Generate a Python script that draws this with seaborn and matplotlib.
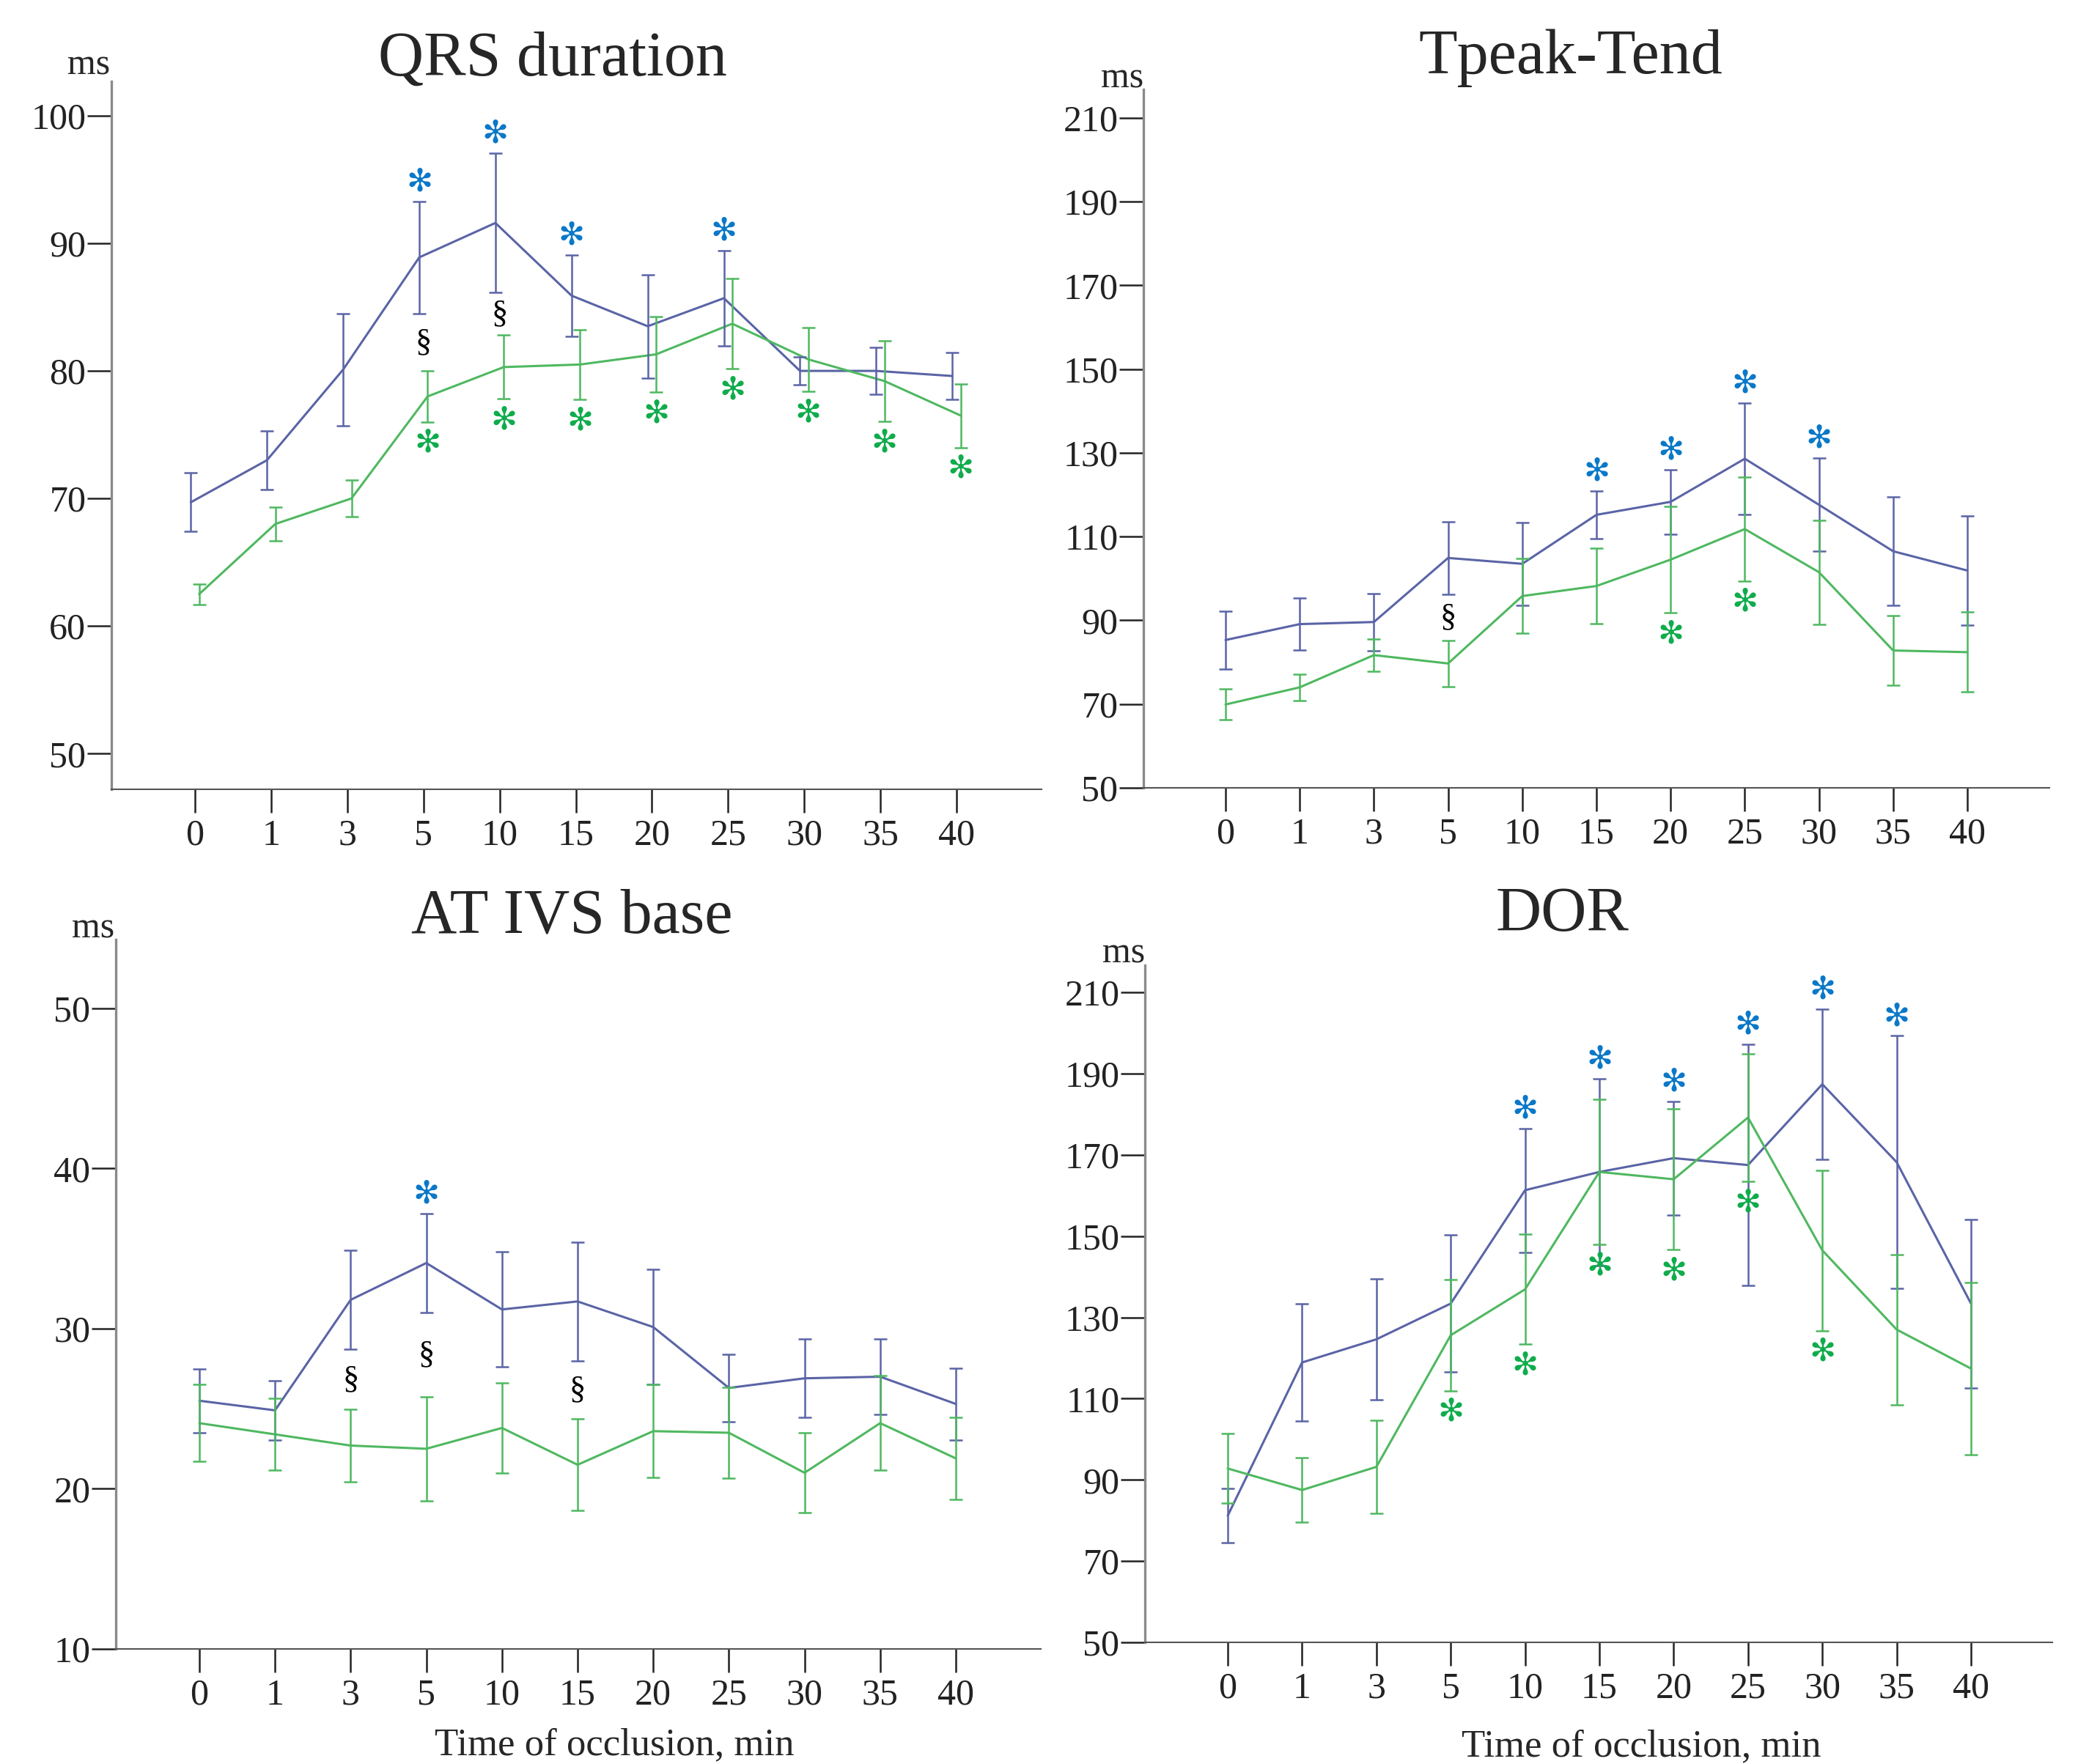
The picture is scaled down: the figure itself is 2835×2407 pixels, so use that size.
import pandas as pd
import numpy as np
import matplotlib
matplotlib.use("Agg")
import matplotlib.pyplot as plt
import seaborn as sns

times = ['0', '1', '3', '5', '10', '15', '20', '25', '30', '35', '40']

# QRS duration
qrs_blue = [69.7, 73.0, 80.1, 88.9, 91.6, 85.9, 83.5, 85.7, 80.0, 80.0, 79.6]
qrs_blue_err = [2.3, 2.3, 4.4, 4.4, 5.45, 3.2, 4.05, 3.75, 1.1, 1.85, 1.85]
qrs_green = [62.5, 68.0, 70.0, 78.0, 80.3, 80.5, 81.3, 83.7, 80.9, 79.2, 76.5]
qrs_green_err = [0.8, 1.3, 1.45, 2.0, 2.5, 2.75, 2.95, 3.55, 2.5, 3.15, 2.5]
qrs_star_blue = ['5', '10', '15', '25']
qrs_star_green = ['5', '10', '15', '20', '25', '30', '35', '40']
qrs_sect = ['5', '10']

# Tpeak-Tend
tp_blue = [85.3, 89.1, 89.6, 104.9, 103.5, 115.2, 118.3, 128.6, 117.6, 106.5, 101.9]
tp_blue_err = [6.9, 6.15, 6.85, 8.65, 9.85, 5.7, 7.7, 13.35, 11.1, 12.9, 13.0]
tp_green = [69.9, 74.0, 81.7, 79.7, 95.8, 98.2, 104.5, 111.8, 101.5, 82.8, 82.4]
tp_green_err = [3.7, 3.15, 3.9, 5.5, 8.9, 9.05, 12.65, 12.4, 12.45, 8.35, 9.55]
tp_star_blue = ['15', '20', '25', '30']
tp_star_green = ['20', '25']
tp_sect = ['5']

# AT IVS base
at_blue = [25.5, 24.9, 31.8, 34.1, 31.2, 31.7, 30.1, 26.3, 26.9, 27.0, 25.3]
at_blue_err = [2.0, 1.85, 3.1, 3.1, 3.6, 3.7, 3.6, 2.1, 2.45, 2.35, 2.25]
at_green = [24.1, 23.4, 22.7, 22.5, 23.8, 21.5, 23.6, 23.5, 21.0, 24.1, 21.9]
at_green_err = [2.4, 2.25, 2.25, 3.25, 2.8, 2.85, 2.9, 2.85, 2.5, 2.95, 2.55]
at_star_blue = ['5']
at_star_green = []
at_sect = ['3', '5', '15']

# DOR
dor_blue = [81.2, 118.9, 124.6, 133.4, 161.3, 165.8, 169.2, 167.5, 187.4, 168.2, 133.4]
dor_blue_err = [6.6, 14.4, 14.85, 16.85, 15.25, 23.0, 13.95, 29.7, 18.45, 31.1, 20.75]
dor_green = [92.8, 87.5, 93.2, 125.6, 136.9, 165.8, 164.0, 179.2, 146.5, 127.0, 117.4]
dor_green_err = [8.55, 7.95, 11.45, 13.65, 13.55, 17.9, 17.3, 15.75, 19.75, 18.5, 21.2]
dor_star_blue = ['10', '15', '20', '25', '30', '35']
dor_star_green = ['5', '10', '15', '20', '25', '30']
dor_sect = []

sns.set_style('ticks')
plt.rcParams['font.family'] = ['Liberation Serif', 'DejaVu Sans']

W, H = 2835, 2407
fig = plt.figure(figsize=(W / 100, H / 100), dpi=100)

BLUE = '#5a64a6'
GREEN = '#4fb860'
STAR_BLUE = '#0a78c8'
STAR_GREEN = '#10ac4c'


def draw_panel(box, tick_px, ylim, yticks, title, title_xy, ms_xy,
               blue, blue_err, green, green_err, star_b, star_g, sect, dodge=0.0, xlabel_xy=None):
    left, right, top, bottom = box
    ax = fig.add_axes([left / W, 1 - bottom / H, (right - left) / W, (bottom - top) / H])
    t0, t40 = tick_px
    step = (t40 - t0) / 10
    ax.set_xlim((left - t0) / step, (right - t0) / step)
    ax.set_ylim(*ylim)

    n = len(times)
    df = pd.DataFrame({
        'pos': list(np.arange(n) - dodge) + list(np.arange(n) + dodge),
        'value': blue + green,
        'err': blue_err + green_err,
        'group': ['blue'] * n + ['green'] * n,
    })
    sns.lineplot(data=df, x='pos', y='value', hue='group', hue_order=['blue', 'green'],
                 palette={'blue': BLUE, 'green': GREEN}, lw=2.2, legend=False,
                 errorbar=None, sort=False, ax=ax)
    for grp, col in [('blue', BLUE), ('green', GREEN)]:
        d = df[df['group'] == grp]
        ax.errorbar(d['pos'], d['value'], yerr=d['err'], fmt='none', ecolor=col,
                    elinewidth=1.8, capsize=6.5, capthick=1.8)

    for t in star_b:
        i = times.index(t)
        ax.annotate('✻', xy=(i - dodge, blue[i] + blue_err[i]), xytext=(0, 19),
                    textcoords='offset points', ha='center', va='center',
                    color=STAR_BLUE, fontsize=31, family='DejaVu Sans')
    for t in star_g:
        i = times.index(t)
        ax.annotate('✻', xy=(i + dodge, green[i] - green_err[i]), xytext=(0, -21),
                    textcoords='offset points', ha='center', va='center',
                    color=STAR_GREEN, fontsize=31, family='DejaVu Sans')
    for t in sect:
        i = times.index(t)
        ymid = (blue[i] - blue_err[i] + green[i] + green_err[i]) / 2
        ax.text(i, ymid, '§', ha='center', va='center', fontsize=32, color='black')

    ax.set_xticks(range(n))
    ax.set_xticklabels(times)
    ax.set_yticks(yticks)
    ax.tick_params(axis='both', labelsize=36, colors='#222222', width=1.8)
    ax.tick_params(axis='y', length=24, pad=1)
    ax.tick_params(axis='x', length=23, pad=6)
    for s in ['top', 'right']:
        ax.spines[s].set_visible(False)
    ax.spines['left'].set_color('#8a8a8a')
    ax.spines['left'].set_linewidth(2.4)
    ax.spines['bottom'].set_color('#555555')
    ax.spines['bottom'].set_linewidth(1.5)
    ax.set_xlabel('')
    ax.set_ylabel('')

    fig.text(title_xy[0] / W, 1 - title_xy[1] / H, title, ha='center', va='baseline', fontsize=62)
    fig.text(ms_xy[0] / W, 1 - ms_xy[1] / H, 'ms', ha='right', va='baseline', fontsize=36)
    if xlabel_xy is not None:
        fig.text(xlabel_xy[0] / W, 1 - xlabel_xy[1] / H, 'Time of occlusion, min',
                 ha='center', va='baseline', fontsize=38)
    return ax


draw_panel((152, 1421, 111, 1077), (266, 1305), (47.2, 102.7), range(50, 101, 10),
           'QRS duration', (754, 103), (150, 101),
           qrs_blue, qrs_blue_err, qrs_green, qrs_green_err,
           qrs_star_blue, qrs_star_green, qrs_sect, dodge=0.055)
draw_panel((1560, 2796, 122, 1075), (1672, 2684), (50, 216.8), range(50, 211, 20),
           'Tpeak-Tend', (2143, 100), (1560, 119),
           tp_blue, tp_blue_err, tp_green, tp_green_err,
           tp_star_blue, tp_star_green, tp_sect)
draw_panel((158, 1420, 1282, 2250), (272, 1304), (10, 54.3), range(10, 51, 10),
           'AT IVS base', (780, 1272), (156, 1280),
           at_blue, at_blue_err, at_green, at_green_err,
           at_star_blue, at_star_green, at_sect, xlabel_xy=(838, 2394))
draw_panel((1562, 2800, 1317, 2241), (1675, 2689), (50, 216.7), range(50, 211, 20),
           'DOR', (2131, 1270), (1562, 1313),
           dor_blue, dor_blue_err, dor_green, dor_green_err,
           dor_star_blue, dor_star_green, dor_sect, xlabel_xy=(2239, 2396))

fig.savefig('out.png', dpi=100)
